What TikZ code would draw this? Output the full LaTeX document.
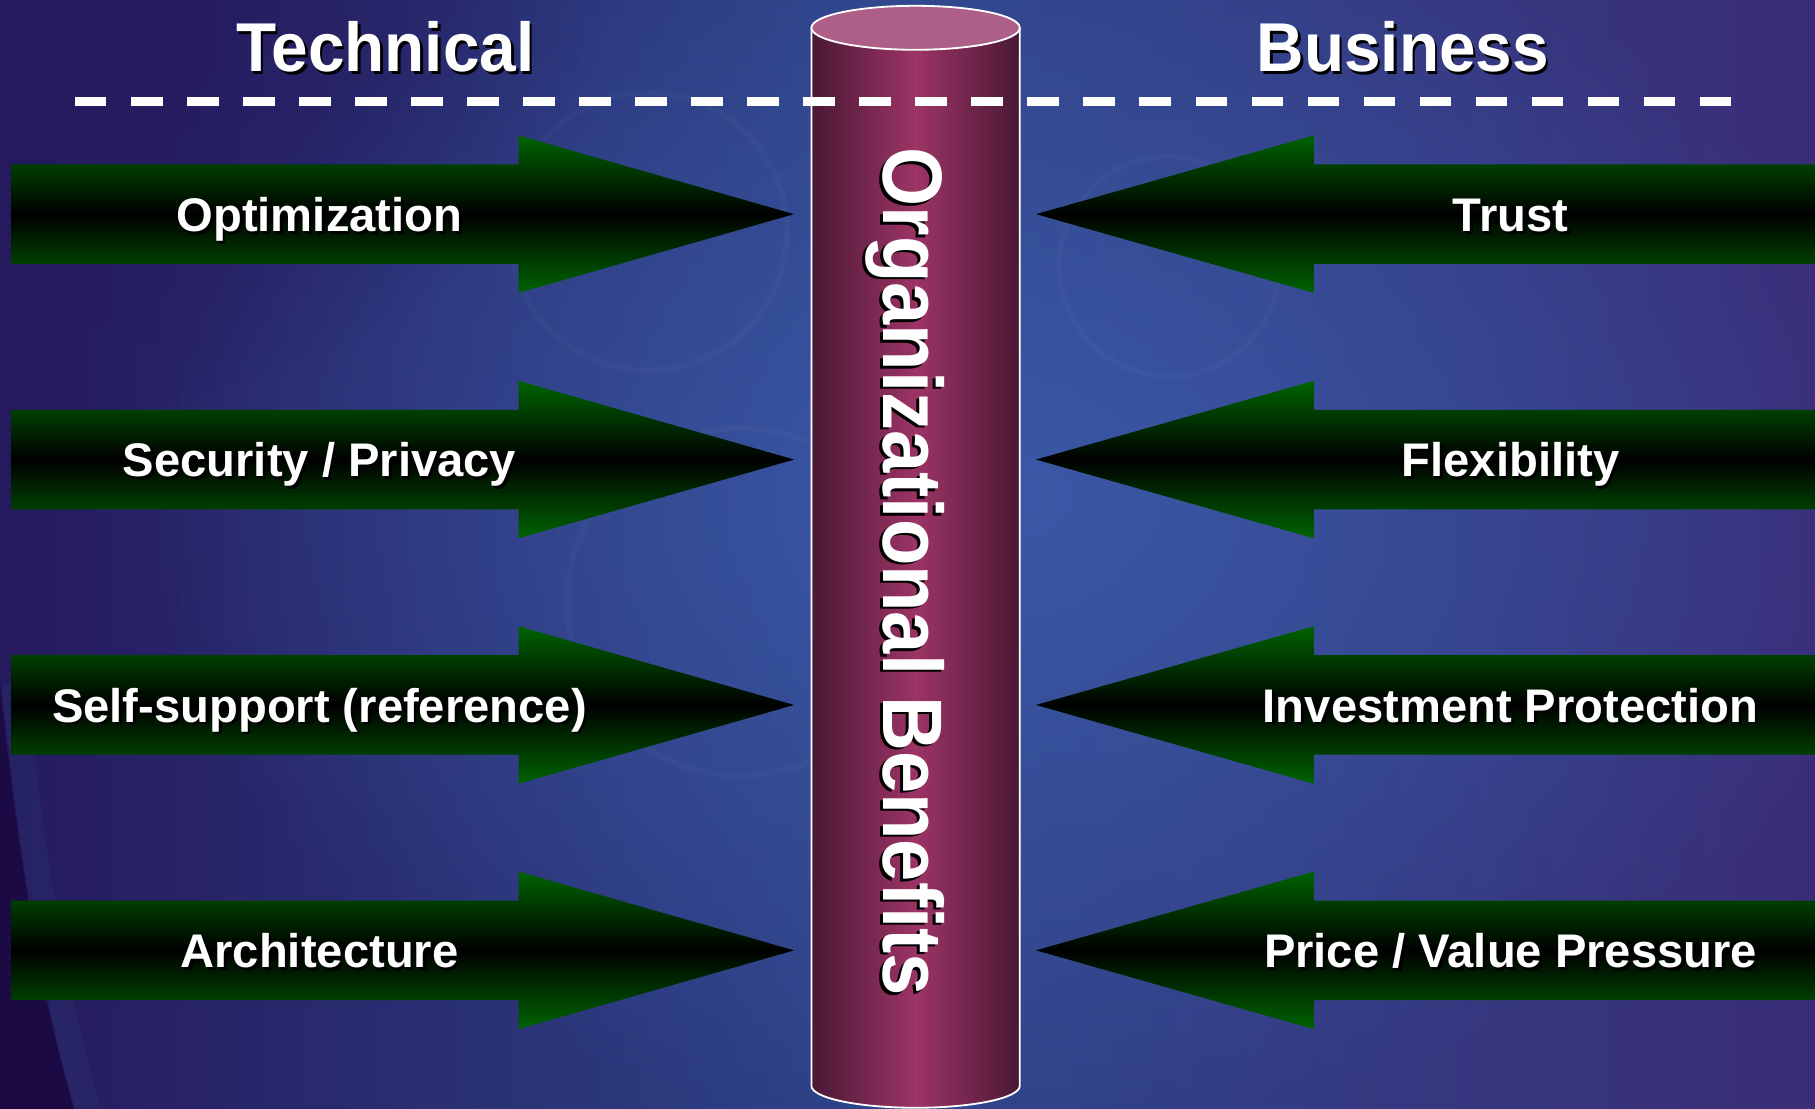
\documentclass[tikz,border=0pt]{standalone}
\usepackage{fontspec}
\setmainfont{Liberation Sans}
\usepackage{tikz}
\usetikzlibrary{positioning,fadings}
\definecolor{colorbgleft}  {RGB}{38 ,26 ,94 }
\definecolor{colorbgmid}   {RGB}{46 ,69 ,137}
\definecolor{colorbgright} {RGB}{58 ,45 ,120}
\definecolor{colorglow}    {RGB}{59 ,88 ,166}
\definecolor{colorbgdeep}  {RGB}{28 ,10 ,68 }
\definecolor{colorrim}     {RGB}{40 ,52 ,112}
\definecolor{colorarrow}   {RGB}{0  ,100,0  }
\definecolor{colorcyldark} {RGB}{74 ,24 ,52 }
\definecolor{colorcylmid}  {RGB}{156,52 ,102}
\definecolor{colorcyltop}  {RGB}{173,95 ,135}

\tikzfading[name=glowfade,inner color=transparent!0,outer color=transparent!100]
\newcommand{\shtxt}[1]{\leavevmode\rlap{\kern1.3pt\raisebox{-1.3pt}{\color{black}#1}}#1}

\begin{document}
\begin{tikzpicture}[
    x=0.02cm, y=-0.02cm,
    basetxt/.style={text=white,inner sep=0pt,anchor=base},
    headtxt/.style={basetxt,font={\fontsize{34pt}{40pt}\selectfont\bfseries}},
    itemtxt/.style={basetxt,font={\fontsize{23.2pt}{28pt}\selectfont\bfseries}},
    benefittxt/.style={basetxt,font={\fontsize{41.5pt}{48pt}\selectfont\bfseries},rotate=-90},
    arrowbody/.style={top color=colorarrow,bottom color=colorarrow,middle color=black},
    divider/.style={draw=white,line width=4.5pt,dash pattern=on 0.54cm off 0.428cm},
    bubble/.style={draw=white,line width=3pt,opacity=0.025},
]
    \useasboundingbox (0,0) rectangle (1568,958);

    % Background
    \shade[left color=colorbgleft,right color=colorbgright,middle color=colorbgmid] (0,0) rectangle (1568,958);
    \fill[colorglow,path fading=glowfade] (880,430) ellipse [x radius=760, y radius=560];
    \fill[colorbgleft,path fading=glowfade] (0,0) ellipse [x radius=520, y radius=360];
    \draw[bubble] (560,200) circle [radius=120];
    \draw[bubble] (1010,230) circle [radius=95];
    \draw[bubble] (640,520) circle [radius=150];
    \draw[colorrim,line width=12pt,opacity=0.35] (12,590) .. controls (30,760) and (50,870) .. (76,958);
    \fill[colorbgdeep] (0,590) .. controls (18,760) and (38,870) .. (64,958) -- (0,958) -- cycle;

    % Column
    \shade[left color=colorcyldark,right color=colorcyldark,middle color=colorcylmid]
        (701,24) -- (701,938) arc [start angle=180, end angle=0, x radius=90, y radius=19] -- (881,24) -- cycle;
    \draw[white,line width=0.9pt]
        (701,24) -- (701,938) arc [start angle=180, end angle=0, x radius=90, y radius=19] -- (881,24);
    \draw[white,line width=0.9pt,fill=colorcyltop] (791,24) ellipse [x radius=90, y radius=19];
    \node[benefittxt] (benefits) at (763,494) {\scalebox{0.9}[1]{\shtxt{Organizational Benefits}}};

    % Headers
    \node[headtxt] (technical) at (333,62) {\scalebox{0.95}[1]{\shtxt{Technical}}};
    \node[headtxt] (business)  at (1212,62) {\scalebox{0.95}[1]{\shtxt{Business}}};
    \coordinate (dashleft)  at (65,88);
    \coordinate (dashright) at (1497,88);
    \draw[divider] (dashleft) -- (dashright);

    % Technical arrows
    \path[arrowbody] (10,142) -- (448,142) -- (448,117) -- (686,185) -- (448,253) -- (448,228) -- (10,228) -- cycle;
    \path[arrowbody] (10,354) -- (448,354) -- (448,329) -- (686,397) -- (448,465) -- (448,440) -- (10,440) -- cycle;
    \path[arrowbody] (10,566) -- (448,566) -- (448,541) -- (686,609) -- (448,677) -- (448,652) -- (10,652) -- cycle;
    \path[arrowbody] (10,778) -- (448,778) -- (448,753) -- (686,821) -- (448,889) -- (448,864) -- (10,864) -- cycle;
    \node[itemtxt] (optimization) at (276,200) {\shtxt{Optimization}};
    \node[itemtxt] (security)     at (276,412) {\shtxt{Security / Privacy}};
    \node[itemtxt] (selfsupport)  at (276,624) {\shtxt{Self-support (reference)}};
    \node[itemtxt] (architecture) at (276,836) {\shtxt{Architecture}};

    % Business arrows
    \path[arrowbody] (1568,142) -- (1135,142) -- (1135,117) -- (895,185) -- (1135,253) -- (1135,228) -- (1568,228) -- cycle;
    \path[arrowbody] (1568,354) -- (1135,354) -- (1135,329) -- (895,397) -- (1135,465) -- (1135,440) -- (1568,440) -- cycle;
    \path[arrowbody] (1568,566) -- (1135,566) -- (1135,541) -- (895,609) -- (1135,677) -- (1135,652) -- (1568,652) -- cycle;
    \path[arrowbody] (1568,778) -- (1135,778) -- (1135,753) -- (895,821) -- (1135,889) -- (1135,864) -- (1568,864) -- cycle;
    \node[itemtxt] (trust)       at (1305,200) {\shtxt{Trust}};
    \node[itemtxt] (flexibility) at (1305,412) {\shtxt{Flexibility}};
    \node[itemtxt] (investment)  at (1305,624) {\shtxt{Investment Protection}};
    \node[itemtxt] (price)       at (1305,836) {\shtxt{Price / Value Pressure}};

\end{tikzpicture}
\end{document}
